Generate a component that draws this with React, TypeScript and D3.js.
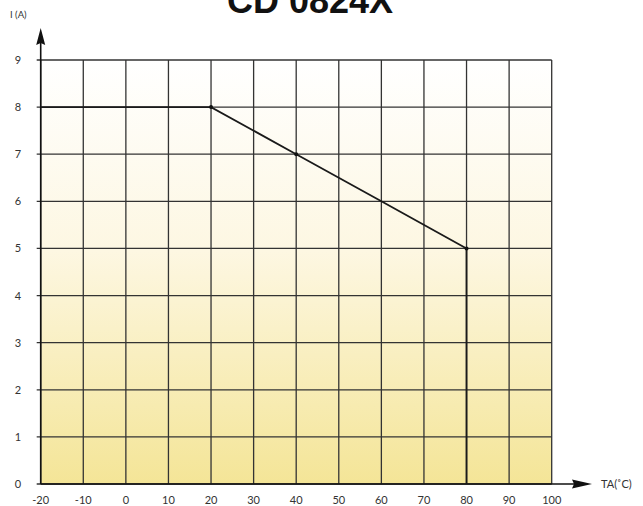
import { useEffect, useRef } from "react";
import * as d3 from "d3";

const title = "CD 0824X";
const tempTicks = [-20, -10, 0, 10, 20, 30, 40, 50, 60, 70, 80, 90, 100];
const currentTicks = [0, 1, 2, 3, 4, 5, 6, 7, 8, 9];
const curveTemp = [-20, 20, 40, 60, 80, 80];
const curveCurrent = [8, 8, 7, 6, 5, 0];
const markerTemp = [20, 40, 80];
const markerCurrent = [8, 7, 5];

export default function App() {
  const ref = useRef<SVGSVGElement>(null);

  useEffect(() => {
    const width = 643;
    const height = 506;
    const svg = d3.select(ref.current);
    svg.selectAll("*").remove();

    const x = d3.scaleLinear().domain([-20, 100]).range([40.7, 551.7]);
    const y = d3.scaleLinear().domain([0, 9]).range([484, 60]);

    const defs = svg.append("defs");
    const grad = defs
      .append("linearGradient")
      .attr("id", "bg")
      .attr("x1", 0)
      .attr("y1", 0)
      .attr("x2", 0)
      .attr("y2", 1);
    grad.append("stop").attr("offset", "0%").attr("stop-color", "#ffffff");
    grad.append("stop").attr("offset", "45%").attr("stop-color", "#fdf7e2");
    grad.append("stop").attr("offset", "100%").attr("stop-color", "#f4e597");

    svg
      .append("rect")
      .attr("width", width)
      .attr("height", height)
      .attr("fill", "#fff");

    svg
      .append("rect")
      .attr("x", x(-20))
      .attr("y", y(9))
      .attr("width", x(100) - x(-20))
      .attr("height", y(0) - y(9))
      .attr("fill", "url(#bg)");

    // title, top half is cut off
    svg
      .append("text")
      .attr("x", 310)
      .attr("y", 13)
      .attr("text-anchor", "middle")
      .attr("font-family", "Liberation Sans, Arial, sans-serif")
      .attr("font-weight", "bold")
      .attr("font-size", 36)
      .attr("fill", "#111")
      .text(title);

    const grid = svg.append("g").attr("stroke", "#333").attr("stroke-width", 1.3);
    grid
      .selectAll("line.v")
      .data(tempTicks)
      .join("line")
      .attr("class", "v")
      .attr("x1", (d) => x(d))
      .attr("x2", (d) => x(d))
      .attr("y1", y(9))
      .attr("y2", y(0));
    grid
      .selectAll("line.h")
      .data(currentTicks)
      .join("line")
      .attr("class", "h")
      .attr("x1", x(-20) - 4)
      .attr("x2", x(100))
      .attr("y1", (d) => y(d))
      .attr("y2", (d) => y(d));

    // axes with arrows
    const axes = svg.append("g").attr("stroke", "#111").attr("stroke-width", 1.6);
    axes
      .append("line")
      .attr("x1", x(-20))
      .attr("x2", 578)
      .attr("y1", y(0))
      .attr("y2", y(0));
    axes
      .append("line")
      .attr("x1", x(-20))
      .attr("x2", x(-20))
      .attr("y1", y(0))
      .attr("y2", 42);
    svg
      .append("path")
      .attr("d", `M592,${y(0)} L572,${y(0) - 4.5} L574,${y(0)} L572,${y(0) + 4.5} Z`)
      .attr("fill", "#111");
    svg
      .append("path")
      .attr("d", `M${x(-20)},28 L${x(-20) - 4.5},45 L${x(-20)},43 L${x(-20) + 4.5},45 Z`)
      .attr("fill", "#111");

    const labelFont = "Lato, 'Open Sans', sans-serif";
    svg
      .append("g")
      .selectAll("text")
      .data(tempTicks)
      .join("text")
      .attr("x", (d) => x(d))
      .attr("y", 504)
      .attr("text-anchor", "middle")
      .attr("font-family", labelFont)
      .attr("font-size", 11)
      .attr("fill", "#333")
      .text((d) => d);

    svg
      .append("g")
      .selectAll("text")
      .data(currentTicks)
      .join("text")
      .attr("x", 18)
      .attr("y", (d) => y(d) + 4)
      .attr("text-anchor", "middle")
      .attr("font-family", labelFont)
      .attr("font-size", 11)
      .attr("fill", "#333")
      .text((d) => d);

    svg
      .append("text")
      .attr("x", 10)
      .attr("y", 18)
      .attr("font-family", labelFont)
      .attr("font-size", 9.5)
      .attr("fill", "#333")
      .text("I (A)");

    svg
      .append("text")
      .attr("x", 601)
      .attr("y", 488)
      .attr("font-family", labelFont)
      .attr("font-size", 11)
      .attr("fill", "#333")
      .text("TA(˚C)");

    // derating curve
    const pts = curveTemp.map((t, i) => [t, curveCurrent[i]] as [number, number]);
    const line = d3
      .line<[number, number]>()
      .x((d) => x(d[0]))
      .y((d) => y(d[1]));
    svg
      .append("path")
      .attr("d", line(pts))
      .attr("fill", "none")
      .attr("stroke", "#1a1a1a")
      .attr("stroke-width", 1.8);

    svg
      .append("g")
      .selectAll("circle")
      .data(markerTemp)
      .join("circle")
      .attr("cx", (d) => x(d))
      .attr("cy", (d, i) => y(markerCurrent[i]))
      .attr("r", 2)
      .attr("fill", "#111");
  }, []);

  return (
    <svg
      ref={ref}
      width={643}
      height={506}
      style={{ position: "absolute", left: 0, top: 0, display: "block" }}
    />
  );
}
